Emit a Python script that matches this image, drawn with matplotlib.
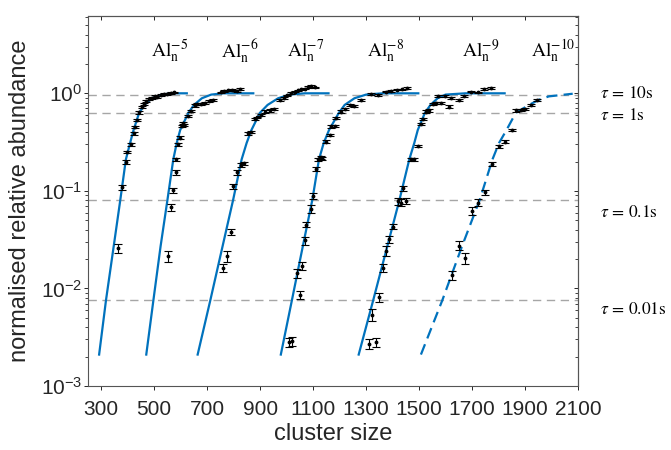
import matplotlib
matplotlib.use('Agg')
import matplotlib.pyplot as plt

plt.rcParams['font.family'] = ['Liberation Sans', 'DejaVu Sans']

# fitted curves (cluster size, normalised abundance)
fit_y = [0.0021, 0.0076, 0.027, 0.081, 0.21, 0.31, 0.42, 0.63, 0.76, 0.89, 0.97, 1.0, 1.0]
fit5_x = [292, 318, 347, 372, 393, 409, 422, 443, 463, 491, 528, 566, 623]
fit6_x = [470, 497, 524, 550, 572, 585, 598, 629, 650, 680, 715, 760, 874]
fit7_x = [664, 712, 758, 798, 830, 849, 867, 899, 928, 968, 1012, 1068, 1158]
fit8_x = [978, 1020, 1061, 1097, 1122, 1140, 1160, 1197, 1219, 1256, 1300, 1363, 1497]
fit9_x = [1272, 1327, 1380, 1426, 1463, 1482, 1495, 1522, 1543, 1570, 1600, 1675, 1823]
fit10_x = [1507, 1588, 1662, 1729, 1777, 1802, 1830, 1865, 1915, 1953, 1990, 2080]
fit10_y = [0.0021, 0.0076, 0.027, 0.081, 0.21, 0.31, 0.42, 0.63, 0.76, 0.86, 0.93, 0.99]

# measured abundances with error bars
x5 = [365, 380, 393, 399, 412, 422, 427, 434, 443, 452, 460, 470, 480, 492, 502, 512, 525, 538, 550, 563, 575]
y5 = [0.026, 0.109, 0.197, 0.25, 0.30, 0.39, 0.45, 0.535, 0.64, 0.72, 0.77, 0.83, 0.87, 0.90, 0.93, 0.92, 0.96, 0.98, 0.99, 1.01, 1.02]
e5 = [0.0028, 0.006, 0.008, 0.008, 0.012, 0.012, 0.012, 0.012] + [0.02] * 13

x6 = [551, 564, 572, 581, 583, 589, 597, 604, 608, 612, 629, 639, 654, 662, 676, 692, 708, 723, 752, 765, 780, 795, 811, 823]
y6 = [0.0215, 0.068, 0.102, 0.155, 0.21, 0.30, 0.35, 0.46, 0.50, 0.47, 0.59, 0.66, 0.75, 0.77, 0.78, 0.80, 0.83, 0.86, 1.02, 1.05, 1.07, 1.08, 1.05, 1.11]
e6 = [0.0028, 0.006, 0.006, 0.008, 0.008, 0.012, 0.012, 0.012, 0.012, 0.012, 0.012] + [0.02] * 13

x7 = [761, 773, 790, 798, 811, 828, 838, 855, 864, 880, 888, 905, 918, 936, 952, 975, 990, 1003, 1018, 1030, 1042, 1056, 1068, 1081, 1093, 1106]
y7 = [0.0161, 0.0215, 0.038, 0.111, 0.155, 0.185, 0.192, 0.39, 0.40, 0.54, 0.565, 0.60, 0.65, 0.67, 0.69, 0.85, 0.89, 0.95, 1.00, 1.04, 1.07, 1.10, 1.12, 1.16, 1.19, 1.15]
e7 = [0.0015, 0.0028, 0.0028, 0.006, 0.008, 0.008, 0.008, 0.012, 0.012, 0.012, 0.012] + [0.02] * 15

x8 = [1008, 1020, 1040, 1051, 1058, 1071, 1074, 1091, 1100, 1109, 1120, 1128, 1135, 1150, 1165, 1169, 1181, 1185, 1206, 1222, 1238, 1255, 1282, 1319, 1344, 1376, 1395, 1416, 1436, 1453]
y8 = [0.0028, 0.0029, 0.0143, 0.0086, 0.017, 0.031, 0.045, 0.065, 0.088, 0.167, 0.21, 0.22, 0.215, 0.32, 0.375, 0.457, 0.464, 0.556, 0.65, 0.69, 0.76, 0.74, 0.845, 0.99, 0.966, 1.04, 1.06, 1.09, 1.10, 1.13]
e8 = [0.0003, 0.0003, 0.0015, 0.0008, 0.0015, 0.0028, 0.0028, 0.006, 0.006, 0.008, 0.008, 0.008, 0.008, 0.012, 0.012, 0.012, 0.012, 0.012] + [0.02] * 12

x9 = [1310, 1338, 1323, 1350, 1363, 1376, 1386, 1401, 1420, 1430, 1450, 1438, 1470, 1482, 1495, 1508, 1514, 1527, 1539, 1551, 1564, 1570, 1583, 1599, 1614, 1620, 1649, 1670, 1696, 1721, 1746, 1771]
y9 = [0.0027, 0.0028, 0.0054, 0.0081, 0.0161, 0.0243, 0.032, 0.043, 0.078, 0.076, 0.079, 0.106, 0.21, 0.21, 0.29, 0.49, 0.55, 0.65, 0.67, 0.78, 0.80, 0.93, 0.79, 0.94, 0.73, 0.89, 0.86, 0.93, 1.04, 1.02, 1.11, 1.13]
e9 = [0.0003, 0.0003, 0.0008, 0.0008, 0.0015, 0.0028, 0.0028, 0.0028, 0.006, 0.006, 0.006, 0.006, 0.008, 0.008, 0.008, 0.012, 0.012] + [0.02] * 15

x10 = [1624, 1652, 1674, 1699, 1724, 1750, 1775, 1800, 1825, 1850, 1865, 1884, 1900, 1921, 1947]
y10 = [0.0137, 0.0275, 0.0204, 0.062, 0.076, 0.097, 0.188, 0.285, 0.32, 0.42, 0.667, 0.677, 0.69, 0.76, 0.86]
e10 = [0.0015, 0.0028, 0.0028, 0.006, 0.006, 0.006, 0.008, 0.008, 0.012, 0.012] + [0.02] * 5

# labels
charges = ['-5', '-6', '-7', '-8', '-9', '-10']
charge_x = [488, 752, 1000, 1305, 1663, 1924]
tau_levels = [0.97, 0.63, 0.081, 0.0076]
tau_labels = ['10', '1', '0.1', '0.01']
tau_text_y = [1.0, 0.60, 0.0614, 0.0062]

xticks = [300, 500, 700, 900, 1100, 1300, 1500, 1700, 1900, 2100]

blue = '#0072BD'
axcol = '#262626'

fig = plt.figure(figsize=(6.71, 4.5), dpi=100)
ax = fig.add_axes([88 / 671, 1 - 386 / 450, 490 / 671, 370 / 450])
ax.set_yscale('log')
ax.set_xlim(250, 2100)
ax.set_ylim(1e-3, 6.2)

for lv in tau_levels:
    ax.axhline(lv, color='#a6a6a6', lw=1.0, dashes=(6, 4), zorder=1)

for fx in [fit5_x, fit6_x, fit7_x, fit8_x, fit9_x]:
    ax.plot(fx, fit_y, color=blue, lw=1.6, zorder=2)
ax.plot(fit10_x, fit10_y, color=blue, lw=1.6, dashes=(5, 2.8), zorder=2)

for xs, ys, es in [(x5, y5, e5), (x6, y6, e6), (x7, y7, e7),
                   (x8, y8, e8), (x9, y9, e9), (x10, y10, e10)]:
    ax.errorbar(xs, ys, yerr=es, fmt='.', color='k', ms=3.5, elinewidth=0.8,
                capsize=3, capthick=0.8, zorder=3)

for c, cx in zip(charges, charge_x):
    ax.text(cx, 2.37, r'$\mathrm{Al}_\mathrm{n}^{' + c + '}$', fontsize=14,
            math_fontfamily='stix', ha='left', va='baseline', color='k')

for lab, ty in zip(tau_labels, tau_text_y):
    ax.text(2183, ty, r'$\tau\,=\,' + lab + r'\mathrm{s}$', fontsize=12.5,
            math_fontfamily='stix', ha='left', va='center', color='k',
            clip_on=False)

ax.set_xticks(xticks)
ax.tick_params(axis='both', which='both', direction='out', colors=axcol,
               labelsize=15)
ax.tick_params(axis='x', length=3, width=0.7, pad=7)
ax.tick_params(axis='y', which='major', length=3, width=0.7, pad=1)
ax.tick_params(axis='y', which='minor', length=2, width=0.6)
for s in ax.spines.values():
    s.set_color('#555555')
    s.set_linewidth(0.8)

secx = ax.secondary_xaxis('top')
secx.set_xticks(xticks)
secx.tick_params(direction='in', length=3, width=0.7, labeltop=False,
                 colors=axcol)
secy = ax.secondary_yaxis('right')
secy.tick_params(which='both', direction='in', labelright=False, colors=axcol)
secy.tick_params(which='major', length=3, width=0.7)
secy.tick_params(which='minor', length=2, width=0.6)
for sec in (secx, secy):
    for s in sec.spines.values():
        s.set_color('#555555')
        s.set_linewidth(0.8)

ax.set_xlabel('cluster size', fontsize=17, color=axcol, labelpad=3)
ax.set_ylabel('normalised relative abundance', fontsize=17, color=axcol,
              labelpad=7)

fig.savefig('out.png', dpi=100)
